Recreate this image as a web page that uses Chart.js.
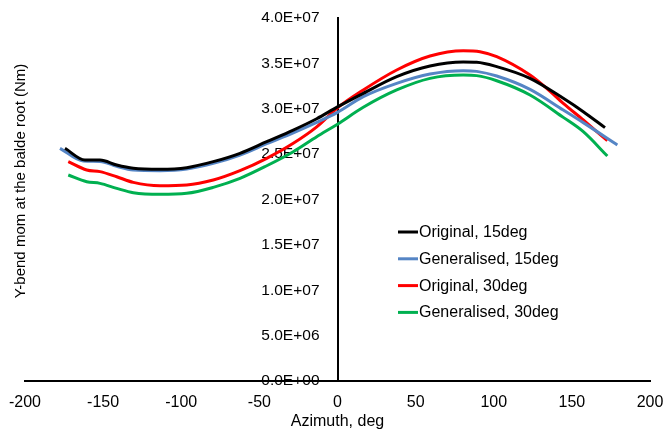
<!DOCTYPE html>
<html>
<head>
<meta charset="utf-8">
<script src="https://cdn.jsdelivr.net/npm/chart.js@4/dist/chart.umd.min.js"></script>
<style>
  html, body { margin: 0; padding: 0; background: #ffffff; }
  #wrap { width: 666px; height: 435px; position: relative; }
</style>
</head>
<body>
<div id="wrap"><canvas id="chart" width="666" height="435"></canvas></div>
<script>
// Azimuth (deg) and Y-bending moment at the blade root (Nm) for each case
const azimuthOrig15 = [-174.4, -161.6, -152, -141.3, -130.7, -113.6, -96.5, -79.5, -62.4, -45.3, -28.3, -13.3, 0, 16.5, 37.9, 59.2, 80.5, 89.1, 101.9, 123.2, 144.5, 157.3, 171.2];
const momentOrig15 = [2.564e7, 2.435e7, 2.435e7, 2.380e7, 2.344e7, 2.333e7, 2.351e7, 2.417e7, 2.509e7, 2.637e7, 2.765e7, 2.89e7, 3.02e7, 3.170e7, 3.354e7, 3.471e7, 3.515e7, 3.512e7, 3.464e7, 3.335e7, 3.115e7, 2.968e7, 2.792e7];

const azimuthGen15 = [-177.6, -162.7, -152, -141.3, -130.7, -113.6, -96.5, -79.5, -62.4, -45.3, -28.3, -13.3, 0, 16.5, 37.9, 59.2, 80.5, 89.1, 101.9, 123.2, 144.5, 157.3, 179.1];
const momentGen15 = [2.564e7, 2.424e7, 2.420e7, 2.365e7, 2.325e7, 2.318e7, 2.335e7, 2.398e7, 2.490e7, 2.615e7, 2.735e7, 2.85e7, 2.96e7, 3.133e7, 3.280e7, 3.383e7, 3.420e7, 3.412e7, 3.361e7, 3.214e7, 2.986e7, 2.847e7, 2.601e7];

const azimuthOrig30 = [-172.3, -160.5, -152, -141.3, -130.7, -113.6, -96.5, -79.5, -62.4, -45.3, -28.3, -13.3, 0, 16.5, 37.9, 59.2, 80.5, 91.2, 101.9, 123.2, 133.9, 144.5, 157.3, 172.7];
const momentOrig30 = [2.417e7, 2.325e7, 2.307e7, 2.251e7, 2.189e7, 2.152e7, 2.160e7, 2.215e7, 2.318e7, 2.454e7, 2.619e7, 2.80e7, 3.01e7, 3.207e7, 3.427e7, 3.581e7, 3.640e7, 3.629e7, 3.574e7, 3.372e7, 3.225e7, 3.060e7, 2.876e7, 2.648e7];

const azimuthGen30 = [-172.3, -160.5, -152, -141.3, -130.7, -113.6, -96.5, -79.5, -62.4, -45.3, -28.3, -13.3, 0, 16.5, 37.9, 59.2, 80.5, 89.1, 101.9, 123.2, 144.5, 157.3, 172.7];
const momentGen30 = [2.270e7, 2.196e7, 2.178e7, 2.123e7, 2.075e7, 2.057e7, 2.068e7, 2.134e7, 2.233e7, 2.372e7, 2.527e7, 2.692e7, 2.83e7, 3.016e7, 3.207e7, 3.335e7, 3.372e7, 3.365e7, 3.309e7, 3.152e7, 2.905e7, 2.747e7, 2.479e7];

const seriesLabels = ['Original, 15deg', 'Generalised, 15deg', 'Original, 30deg', 'Generalised, 30deg'];
const seriesColors = ['#000000', '#5585C5', '#FF0000', '#00B050'];

const FONT = "'Liberation Sans', Arial, sans-serif";

function toPoints(xs, ys) {
  return xs.map((x, i) => ({ x: x, y: ys[i] }));
}

// Scientific tick text with a two-digit exponent, e.g. 3.5E+07
function sciLabel(v) {
  const parts = Number(v).toExponential(1).split('e');
  const exp = parseInt(parts[1], 10);
  return parts[0] + 'E' + (exp < 0 ? '-' : '+') + String(Math.abs(exp)).padStart(2, '0');
}

// Moves the moment tick labels away from the axis line at azimuth 0
const yLabelGap = {
  id: 'yLabelGap',
  beforeDraw(chart) {
    const scale = chart.scales.y;
    const items = scale.getLabelItems(chart.chartArea);
    if (items._shifted) return;
    items.forEach(item => { item.options.translation[0] -= 18; });
    items._shifted = true;
  }
};

// Legend drawn inside the plot area
const innerLegend = {
  id: 'innerLegend',
  afterDatasetsDraw(chart) {
    const ctx = chart.ctx;
    const lineX0 = 398, lineX1 = 418, textX = 419, firstY = 232, rowGap = 26.8;
    ctx.save();
    ctx.font = '16px ' + FONT;
    ctx.textAlign = 'left';
    ctx.textBaseline = 'middle';
    chart.data.datasets.forEach((ds, i) => {
      const y = firstY + i * rowGap;
      ctx.strokeStyle = ds.borderColor;
      ctx.lineWidth = 3;
      ctx.beginPath();
      ctx.moveTo(lineX0, y);
      ctx.lineTo(lineX1, y);
      ctx.stroke();
      ctx.fillStyle = '#000000';
      ctx.fillText(ds.label, textX, y + 0.5);
    });
    ctx.restore();
  }
};

// Centre the vertical axis title a little above the middle of the plot
const titleShift = {
  id: 'titleShift',
  afterLayout(chart) {
    const s = chart.scales.yTitle;
    if (s) { s.bottom = s.top + 326; }
  }
};

new Chart(document.getElementById('chart'), {
  type: 'line',
  data: {
    datasets: [
      { label: seriesLabels[0], data: toPoints(azimuthOrig15, momentOrig15), borderColor: seriesColors[0] },
      { label: seriesLabels[1], data: toPoints(azimuthGen15, momentGen15), borderColor: seriesColors[1] },
      { label: seriesLabels[2], data: toPoints(azimuthOrig30, momentOrig30), borderColor: seriesColors[2] },
      { label: seriesLabels[3], data: toPoints(azimuthGen30, momentGen30), borderColor: seriesColors[3] }
    ].map(d => Object.assign(d, {
      yAxisID: 'y',
      borderWidth: 3,
      pointRadius: 0,
      fill: false,
      tension: 0.4,
      cubicInterpolationMode: 'monotone',
      borderCapStyle: 'butt'
    }))
  },
  options: {
    responsive: false,
    animation: false,
    events: [],
    devicePixelRatio: 1,
    layout: { padding: { top: 18, right: 16, bottom: 0, left: 0 } },
    plugins: {
      legend: { display: false },
      tooltip: { enabled: false }
    },
    scales: {
      x: {
        type: 'linear',
        position: 'bottom',
        min: -200,
        max: 200,
        ticks: {
          stepSize: 50,
          color: '#000000',
          font: { family: FONT, size: 16 },
          padding: 0,
          maxRotation: 0
        },
        grid: { display: true, drawOnChartArea: false, drawTicks: true, tickLength: 12, color: 'rgba(0,0,0,0)' },
        border: { display: true, color: '#000000', width: 2 },
        title: {
          display: true,
          text: 'Azimuth, deg',
          color: '#000000',
          font: { family: FONT, size: 16 },
          padding: { top: 0, bottom: 4 }
        },
        afterFit(scale) { scale.height = 54; }
      },
      yTitle: {
        type: 'linear',
        position: 'left',
        min: 0,
        max: 4e7,
        ticks: { display: false },
        grid: { display: false, drawTicks: false },
        border: { display: false },
        title: {
          display: true,
          text: 'Y-bend mom at the balde root (Nm)',
          color: '#000000',
          font: { family: FONT, size: 15 },
          padding: { top: 12, bottom: 0 }
        },
        afterFit(scale) { scale.width = 25; }
      },
      y: {
        type: 'linear',
        position: { x: 0 },
        min: 0,
        max: 4e7,
        ticks: {
          stepSize: 5e6,
          color: '#000000',
          font: { family: FONT, size: 15.5 },
          padding: 0,
          callback: (v) => sciLabel(v)
        },
        grid: { display: false, drawTicks: false },
        border: { display: true, color: '#000000', width: 2 },
        afterFit(scale) { scale.width = 0; }
      }
    }
  },
  plugins: [yLabelGap, innerLegend, titleShift]
});
</script>
</body>
</html>
